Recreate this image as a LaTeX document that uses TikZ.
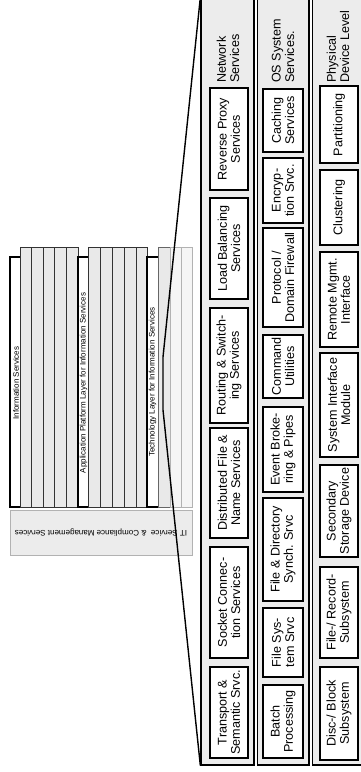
\documentclass[tikz,border=0pt]{standalone}
\usepackage{fontspec}
\setmainfont{Liberation Sans}
\usetikzlibrary{positioning}
\tikzset{
panel/.style={draw=black, line width=1.3pt, fill=gray!15, inner sep=0pt},
svc/.style={draw=black, line width=1.8pt, fill=white, rotate=90, align=center, inner sep=0pt, minimum height=38pt, font=\fontsize{12.6}{13.4}\selectfont},
level/.style={rotate=90, anchor=west, align=left, inner sep=0pt, font=\fontsize{12.6}{13.4}\selectfont},
frame/.style={draw=black, line width=1.2pt, fill=white},
strip/.style={draw=black!80, line width=1pt, fill=gray!17},
faint/.style={draw=gray!60, line width=0.7pt, fill=gray!8},
tiny/.style={inner sep=0pt, font=\fontsize{8}{9}\selectfont},
zoomline/.style={draw=black, line width=1.4pt, line join=round},
}
\newcommand{\svcbox}[5]{\node[svc, minimum width={#4-#3}] (#1) at (#2,{(#3+#4)/2}) {#5};}

\begin{document}
\begin{tikzpicture}[x=1pt, y=-1pt]
\useasboundingbox (0,0) rectangle (361,772);

    % layer stack
    \draw[frame] (10,257) rectangle (192,507);
    \foreach \xa/\xb in {20/31.5, 31.5/43, 43/54.5, 54.5/66, 66/78}
        \draw[strip] (\xa,247) rectangle (\xb,507);
    \draw[frame] (78,257) rectangle (192,507);
    \foreach \xa/\xb in {88/100, 100/112, 112/124, 124/136, 136/147}
        \draw[strip] (\xa,247) rectangle (\xb,507);
    \draw[frame] (147,257) rectangle (192,507);
    \draw[strip, draw=black!60] (158,247) rectangle (170,507);
    \foreach \xa/\xb in {170/181, 181/192}
        \draw[faint] (\xa,247) rectangle (\xb,507);
    \node[tiny, rotate=90] (infosvc) at (16,383) {Information Services};
    \node[tiny, rotate=90] (applayer) at (83.5,383) {Application Platform Layer for Information Services};
    \node[tiny, rotate=90] (techlayer) at (152.5,382) {Technology Layer for Information Services};
    \node[faint, tiny, fill=gray!15, minimum width=182pt, minimum height=45pt] (itsm) at (101,532.5) {};
    \node[tiny, rotate=180] (itsmtext) at (itsm.center) {IT Service \ \& Compliance Management Services};

    % panels
    \node[panel, minimum width=53pt, minimum height=767pt] (netpanel) at (227.5,381.5) {};
    \node[panel, minimum width=51.5pt, minimum height=767pt] (ospanel) at (283.25,381.5) {};
    \node[panel, minimum width=52pt, minimum height=767pt] (devpanel) at (338.5,381.5) {};

    \node[level] (netlabel) at (228,83) {Network\\Services};
    \node[level] (oslabel) at (283,83) {OS System\\Services.};
    \node[level] (devlabel) at (338,83) {Physical\\Device Level};

    \svcbox{revproxy}{229}{88}{190}{Reverse Proxy\\Services}
    \svcbox{loadbal}{229}{198}{299}{Load Balancing\\Services}
    \svcbox{routing}{229}{308}{423}{Routing \& Switch-\\ing Services}
    \svcbox{distfile}{229}{428}{538}{Distributed File \&\\Name Services}
    \svcbox{socket}{229}{547}{658}{Socket Connec-\\tion Services}
    \svcbox{transport}{229}{667}{758}{Transport \&\\Semantic Srvc.}

    \begin{scope}[svc/.append style={minimum height=40pt}]
    \svcbox{caching}{283}{89}{152}{Caching\\Services}
    \svcbox{encrypt}{283}{158}{223}{Encryp-\\tion Srvc.}
    \svcbox{firewall}{283}{228}{327}{Protocol /\\Domain Firewall}
    \svcbox{command}{283}{335}{398}{Command\\Utilities}
    \svcbox{eventbr}{283}{407}{492}{Event Broke-\\ring \& Pipes}
    \svcbox{dirsync}{283}{498}{601}{File \& Directory\\Synch. Srvc}
    \svcbox{filesys}{283}{608}{677}{File Sys-\\tem Srvc}
    \svcbox{batch}{283}{685}{758}{Batch\\Processing}
    \end{scope}

    \svcbox{partition}{339}{86}{163}{Partitioning}
    \svcbox{cluster}{339}{170}{245}{Clustering}
    \svcbox{remote}{339}{252}{347}{Remote Mgmt.\\Interface}
    \svcbox{sysif}{339}{353}{457}{System Interface\\Module}
    \svcbox{secstore}{339}{465}{557}{Secondary\\Storage Device}
    \svcbox{filerec}{339}{567}{658}{File-/ Record-\\Subsystem}
    \svcbox{discblock}{339}{667}{760}{Disc-/ Block\\Subsystem}

    % zoom funnel
    \coordinate (waisttop) at (163,357);
    \coordinate (waistbot) at (163,410);
    \draw[zoomline] (netpanel.north west) -- (waisttop) -- (waistbot) -- (netpanel.south west);
\end{tikzpicture}
\end{document}
